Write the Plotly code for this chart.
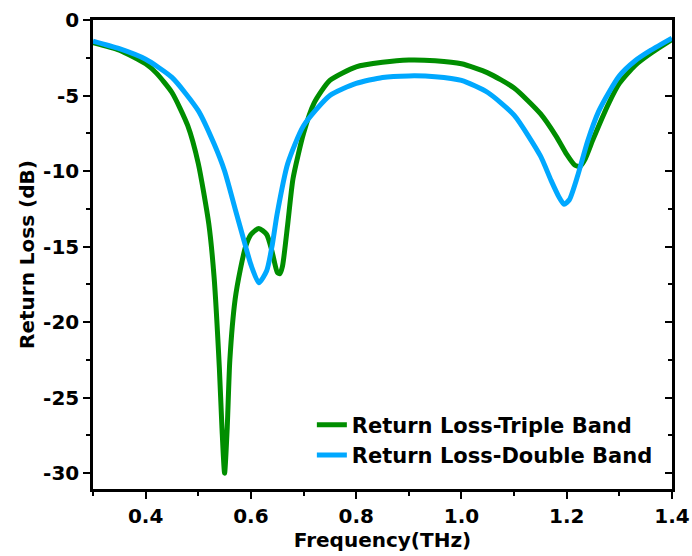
import plotly.graph_objects as go

# Triple band (green)
freq_triple = [0.30, 0.35, 0.40, 0.42, 0.45, 0.48, 0.50, 0.52, 0.53, 0.54, 0.545, 0.55,
               0.555, 0.56, 0.57, 0.58, 0.59, 0.60, 0.615, 0.63, 0.64, 0.65, 0.655, 0.66,
               0.67, 0.68, 0.70, 0.72, 0.75, 0.80, 0.85, 0.90, 0.95, 1.00, 1.05, 1.10,
               1.15, 1.18, 1.20, 1.215, 1.225, 1.235, 1.25, 1.28, 1.30, 1.33, 1.36, 1.40]
rl_triple = [-1.5, -2.0, -2.9, -3.5, -4.8, -7.0, -9.5, -13.5, -17.0, -23.0, -27.0, -30.0,
             -27.0, -22.5, -18.5, -16.5, -15.0, -14.2, -13.8, -14.2, -15.3, -16.7, -16.8, -16.3,
             -13.5, -10.5, -7.5, -5.5, -4.0, -3.1, -2.8, -2.65, -2.7, -2.9, -3.5, -4.5,
             -6.2, -7.7, -8.9, -9.6, -9.7, -9.2, -7.9, -5.5, -4.2, -3.0, -2.2, -1.3]

# Double band (blue)
freq_double = [0.30, 0.35, 0.40, 0.45, 0.50, 0.53, 0.55, 0.57, 0.59, 0.60, 0.615, 0.63,
               0.64, 0.65, 0.67, 0.70, 0.75, 0.80, 0.85, 0.90, 0.95, 1.00, 1.05, 1.10,
               1.15, 1.17, 1.185, 1.195, 1.205, 1.22, 1.24, 1.26, 1.28, 1.30, 1.33, 1.36, 1.40]
rl_double = [-1.4, -1.9, -2.6, -3.8, -6.0, -8.2, -10.0, -12.5, -15.0, -16.2, -17.4, -16.6,
             -15.0, -12.8, -9.5, -7.0, -5.0, -4.2, -3.8, -3.7, -3.75, -4.0, -4.8, -6.3,
             -9.0, -10.6, -11.7, -12.2, -11.9, -10.4, -8.0, -6.1, -4.8, -3.7, -2.7, -2.0, -1.2]

x_ticks = [0.4, 0.6, 0.8, 1.0, 1.2, 1.4]
x_tick_labels = ["0.4", "0.6", "0.8", "1.0", "1.2", "1.4"]
y_ticks = [0, -5, -10, -15, -20, -25, -30]
y_tick_labels = ["0", "-5", "-10", "-15", "-20", "-25", "-30"]

GREEN = "#008E00"
BLUE = "#00A8FF"
FONT = "DejaVu Sans, Liberation Sans, Arial, sans-serif"

fig = go.Figure()
fig.add_trace(go.Scatter(x=freq_triple, y=rl_triple, mode="lines",
                         name="<b>Return Loss-Triple Band</b>", legendgroup="a",
                         line=dict(color=GREEN, width=5, shape="spline", smoothing=0.6)))
fig.add_trace(go.Scatter(x=freq_double, y=rl_double, mode="lines",
                         name="<b>Return Loss-Double Band</b>", legendgroup="b",
                         line=dict(color=BLUE, width=5, shape="spline", smoothing=0.6)))
# invisible trace to host the right-hand mirrored axis
fig.add_trace(go.Scatter(x=[freq_double[0]], y=[rl_double[0]], yaxis="y2", mode="lines",
                         showlegend=False, hoverinfo="skip", line=dict(width=0)))

yr = [-31.05, 0]
fig.update_layout(
    width=692, height=556,
    margin=dict(l=93, r=20, t=20, b=67, autoexpand=False),
    paper_bgcolor="white", plot_bgcolor="white",
    font=dict(family=FONT, size=20, color="black"),
    showlegend=True,
    legend=dict(x=0.378, y=0.18, xanchor="left", yanchor="top",
                bgcolor="rgba(0,0,0,0)", font=dict(size=21, family=FONT),
                tracegroupgap=0),
    xaxis=dict(range=[0.3, 1.4], tickvals=x_ticks, ticktext=[f"<b>{t}</b>" for t in x_tick_labels],
               ticks="outside", ticklen=7, tickwidth=2, tickcolor="black",
               minor=dict(dtick=0.1, tick0=0.3, ticks="outside", ticklen=4, tickwidth=2, tickcolor="black"),
               showline=True, linewidth=2.5, linecolor="black", mirror=True,
               showgrid=False, zeroline=False, automargin=False,
               title=dict(text="<b>Frequency(THz)</b>", font=dict(size=20), standoff=2),
               tickfont=dict(size=20)),
    yaxis=dict(range=yr, tickvals=y_ticks, ticktext=[f"<b>{t}</b>" for t in y_tick_labels],
               ticks="outside", ticklen=7, tickwidth=2, tickcolor="black",
               minor=dict(dtick=2.5, tick0=0, ticks="outside", ticklen=4, tickwidth=2, tickcolor="black"),
               showline=True, linewidth=2.5, linecolor="black", mirror=True,
               showgrid=False, zeroline=False, automargin=False,
               title=dict(text="<b>Return Loss (dB)</b>", font=dict(size=20), standoff=4),
               tickfont=dict(size=20)),
    yaxis2=dict(range=yr, overlaying="y", side="right", tickvals=y_ticks,
                showticklabels=False, ticks="inside", ticklen=7, tickwidth=2, tickcolor="black",
                minor=dict(dtick=2.5, tick0=0, ticks="inside", ticklen=4, tickwidth=2, tickcolor="black"),
                showline=False, showgrid=False, zeroline=False, automargin=False),
)

fig.write_html("out.html", config={"displayModeBar": False},
               post_script="document.body.style.margin='0px';")
